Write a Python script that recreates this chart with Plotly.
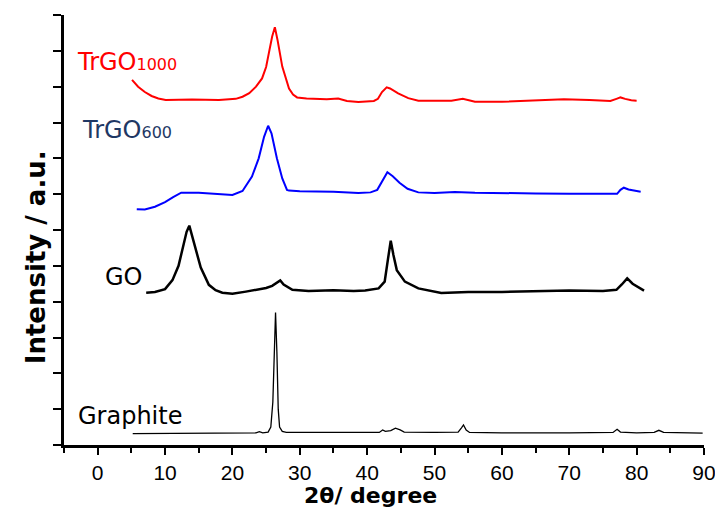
import plotly.graph_objects as go

# ---- data ----
graphite_x = [5.2, 10, 15, 20, 23.5, 24.0, 24.5, 25.3, 25.7, 26.0, 26.2, 26.4, 26.6, 26.8, 27.0, 27.4, 28,
              35, 40, 41.8, 42.3, 42.7, 43.5, 44.2, 44.9, 45.5, 50, 53.5, 54.0, 54.3, 54.7, 55.2, 60, 65, 70,
              76.5, 77.1, 77.6, 80, 82.6, 83.3, 84, 89.8]
graphite_y = [0.32, 0.32, 0.33, 0.33, 0.34, 0.37, 0.34, 0.36, 0.5, 1.2, 2.8, 3.70, 2.6, 1.0, 0.5, 0.38, 0.35,
              0.34, 0.34, 0.35, 0.42, 0.38, 0.40, 0.47, 0.42, 0.36, 0.35, 0.36, 0.48, 0.56, 0.42, 0.35, 0.34, 0.33, 0.34,
              0.35, 0.44, 0.36, 0.34, 0.35, 0.41, 0.35, 0.33]

go_x = [7.2, 8.5, 10, 11.1, 12.0, 12.6, 13.2, 13.6, 14.0, 14.6, 15.3, 16.5, 17.5, 18.5, 20, 22, 23.4, 25, 25.9,
        26.6, 27.1, 27.6, 28.9, 31.3, 35, 38, 39.7, 41.7, 42.6, 43.1, 43.5, 43.9, 44.4, 45.6, 47.6, 51, 55, 60,
        65, 70, 75, 77.0, 77.8, 78.6, 79.4, 80.3, 81.1]
go_y = [4.25, 4.27, 4.35, 4.6, 5.0, 5.44, 5.95, 6.12, 5.85, 5.44, 4.95, 4.47, 4.32, 4.25, 4.22, 4.28, 4.33, 4.38,
        4.44, 4.52, 4.59, 4.48, 4.33, 4.30, 4.32, 4.30, 4.31, 4.37, 4.56, 5.2, 5.70, 5.3, 4.88, 4.56, 4.37, 4.24,
        4.27, 4.27, 4.30, 4.31, 4.30, 4.33, 4.48, 4.65, 4.50, 4.40, 4.31]

trgo600_x = [5.8, 7, 8.5, 10, 11.2, 12.4, 15, 17.5, 19, 20, 21.5, 22.9, 23.9, 24.7, 25.3, 25.8, 26.6, 27.4, 28.1,
             28.4, 30, 35, 38.7, 40.5, 41.5, 42.3, 43.0, 43.8, 44.8, 46.0, 47.6, 50, 53, 56, 60, 65, 70, 75, 77.1,
             77.6, 78.1, 78.8, 79.8, 80.6]
trgo600_y = [6.58, 6.57, 6.65, 6.78, 6.92, 7.04, 7.04, 7.02, 6.99, 6.98, 7.09, 7.49, 8.0, 8.6, 8.91, 8.7, 8.0, 7.44,
             7.12, 7.10, 7.08, 7.07, 7.03, 7.05, 7.12, 7.40, 7.61, 7.50, 7.32, 7.15, 7.05, 7.03, 7.06, 7.04, 7.04,
             7.02, 7.01, 7.00, 7.01, 7.12, 7.18, 7.13, 7.10, 7.07]

trgo1000_x = [5.1, 6, 7, 8, 9, 10.1, 14, 18, 20.5, 21.5, 22.5, 23.5, 24.4, 25.0, 25.4, 25.9, 26.3, 26.7, 27.4,
              28.0, 28.4, 29.0, 29.6, 31, 34, 35.7, 37, 38.7, 41.0, 41.6, 42.2, 42.9, 43.4, 44.6, 45.5, 46.1, 47.6,
              50, 52.5, 54.2, 55.3, 56, 60, 65, 69.2, 73, 76.1, 77.0, 77.6, 78.3, 79.2, 80]
trgo1000_y = [10.19, 10.0, 9.85, 9.74, 9.67, 9.63, 9.64, 9.63, 9.66, 9.72, 9.82, 10.0, 10.23, 10.55, 10.93, 11.4,
              11.66, 11.3, 10.56, 10.15, 9.95, 9.78, 9.70, 9.67, 9.65, 9.67, 9.60, 9.57, 9.60, 9.66, 9.85, 9.98,
              9.95, 9.81, 9.73, 9.68, 9.61, 9.60, 9.61, 9.66, 9.60, 9.58, 9.58, 9.61, 9.65, 9.63, 9.60, 9.66, 9.70,
              9.66, 9.62, 9.61]

labels = ["TrGO<span style='font-size:16px'>1000</span>", "TrGO<span style='font-size:16px'>600</span>", "GO", "Graphite"]
label_x = [-3.4, -2.66, 0.74, -3.25]
label_y = [10.7, 8.8, 4.7, 0.82]
label_colors = ["#FF0000", "#1F3864", "#000000", "#000000"]

x_ticks = [0, 10, 20, 30, 40, 50, 60, 70, 80, 90]

fig = go.Figure()
fig.add_trace(go.Scatter(x=graphite_x, y=graphite_y, mode="lines", line=dict(color="black", width=1.3)))
fig.add_trace(go.Scatter(x=go_x, y=go_y, mode="lines", line=dict(color="black", width=2.5)))
fig.add_trace(go.Scatter(x=trgo600_x, y=trgo600_y, mode="lines", line=dict(color="#0000FF", width=2)))
fig.add_trace(go.Scatter(x=trgo1000_x, y=trgo1000_y, mode="lines", line=dict(color="#FF0000", width=2)))

for t, x, y, c in zip(labels, label_x, label_y, label_colors):
    fig.add_annotation(x=x, y=y, xref="x", yref="y", text=t, showarrow=False, xanchor="left", yanchor="middle",
                       font=dict(family="DejaVu Sans", size=24, color=c))

fig.add_annotation(x=(371.5 - 64) / 643, y=-0.117, xref="paper", yref="paper", text="<b>2θ/ degree</b>",
                   showarrow=False, xanchor="center", yanchor="middle",
                   font=dict(family="DejaVu Sans", size=22, color="black"))
fig.add_annotation(x=-0.0435, y=0.437, xref="paper", yref="paper", text="<b>Intensity / a.u.</b>",
                   showarrow=False, textangle=-90, xanchor="center", yanchor="middle",
                   font=dict(family="DejaVu Sans", size=26, color="black"))

# page body has an 8px margin, so the figure is 8px smaller and shifted
fig.update_layout(
    width=715, height=500,
    margin=dict(l=56, r=16, t=7, b=63),
    paper_bgcolor="white", plot_bgcolor="white",
    showlegend=False,
)
fig.update_xaxes(range=[-5, 90], tickvals=x_ticks, ticks="outside", ticklen=7, tickwidth=2, tickcolor="black",
                 showline=True, linewidth=2.5, linecolor="black", showgrid=False, zeroline=False,
                 tickfont=dict(family="Liberation Sans", size=21, color="black"),
                 minor=dict(dtick=5, tick0=0, ticks="outside", ticklen=5, tickwidth=2, tickcolor="black", showgrid=False))
fig.update_yaxes(range=[0, 12], dtick=1, tick0=0, ticks="outside", ticklen=8, tickwidth=2, tickcolor="black",
                 showticklabels=False, showline=True, linewidth=2.5, linecolor="black", showgrid=False, zeroline=False)

fig.write_html("out.html")
